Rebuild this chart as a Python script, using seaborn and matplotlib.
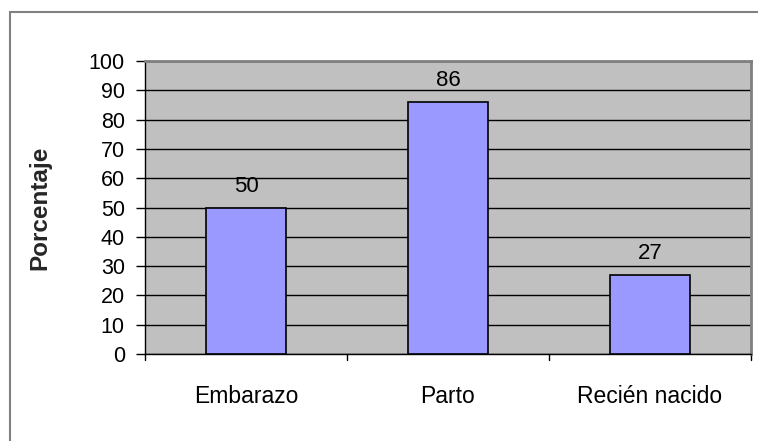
import matplotlib
matplotlib.use("Agg")
import matplotlib.pyplot as plt
import seaborn as sns
import pandas as pd
from matplotlib.patches import Rectangle

categorias = ["Embarazo", "Parto", "Recién nacido"]
porcentajes = [50, 86, 27]
yticks = [0, 10, 20, 30, 40, 50, 60, 70, 80, 90, 100]

sns.set_theme(style="white")
plt.rcParams["font.family"] = ["Liberation Sans", "DejaVu Sans"]

df = pd.DataFrame({"categoria": categorias, "porcentaje": porcentajes})

fig = plt.figure(figsize=(7.58, 4.41), dpi=100)
ax = fig.add_axes([145 / 758, 1 - 354 / 441, (751 - 145) / 758, (354 - 61) / 441])

# outer chart-area frame (runs off the right and bottom edges)
fig.patches.append(Rectangle((10 / 758, -0.05), 1.0, 1 - 12 / 441 + 0.05,
                             transform=fig.transFigure, fill=False,
                             edgecolor="#808080", linewidth=1.5, zorder=0))

ax.set_facecolor("#C0C0C0")
sns.barplot(data=df, x="categoria", y="porcentaje", ax=ax, color="#9999FF",
            width=0.4, edgecolor="black", linewidth=1.2, saturation=1, zorder=3)

ax.set_ylim(0, 100)
ax.set_xlim(-0.5, 2.5)
ax.set_yticks(yticks)
ax.yaxis.grid(True, color="black", linewidth=1.0, zorder=1)
ax.set_axisbelow(True)

for i, v in enumerate(porcentajes):
    ax.text(i, v + 3.6, str(v), ha="center", va="bottom", fontsize=16, color="black")

ax.set_xlabel("")
ax.set_ylabel("Porcentaje", fontsize=17.5, fontweight="bold", labelpad=27)
ax.tick_params(axis="y", labelsize=15.5, length=6.5, width=1, direction="out",
               left=True, pad=8, colors="black")
ax.tick_params(axis="x", labelsize=16.5, length=0, pad=22, colors="black")

# category-boundary tick marks below the axis
for xb in [-0.5, 0.5, 1.5, 2.5]:
    ax.plot([xb, xb], [0, -2.2], color="black", linewidth=1, clip_on=False)

for side in ["top", "right"]:
    ax.spines[side].set_color("#808080")
    ax.spines[side].set_linewidth(2)
for side in ["left", "bottom"]:
    ax.spines[side].set_color("black")
    ax.spines[side].set_linewidth(1)

fig.savefig("out.png", dpi=100)
